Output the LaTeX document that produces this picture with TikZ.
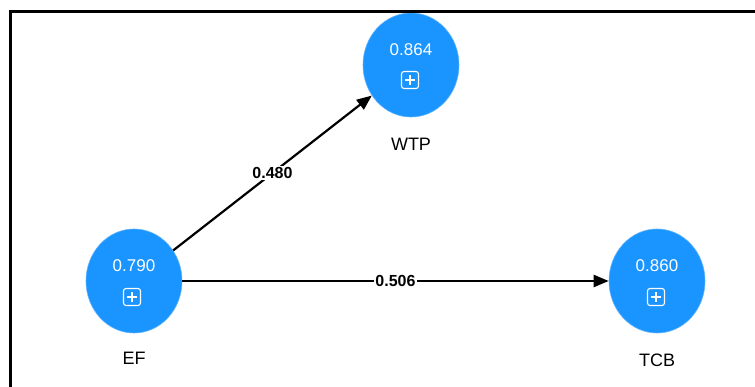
\documentclass[tikz,border=0pt]{standalone}
\usepackage{fontspec}
\setmainfont{Liberation Sans}
\usetikzlibrary{shapes.geometric,arrows.meta}
\definecolor{nodeblue}{HTML}{1A94FF}
\tikzset{
  latent/.style={ellipse, fill=nodeblue, draw=nodeblue!70!white, line width=0.6pt,
    minimum width=96pt, minimum height=104pt, inner sep=0pt},
  valtext/.style={text=white, font=\fontsize{17}{19}\selectfont, inner sep=0pt},
  plusbox/.style={draw=white, line width=1.1pt, rounded corners=2.5pt,
    minimum width=17pt, minimum height=17pt, inner sep=0pt, outer sep=0pt,
    path picture={\draw[white,line width=1.1pt]
      ([yshift=-3.8pt]path picture bounding box.north) -- ([yshift=3.8pt]path picture bounding box.south)
      ([xshift=3.8pt]path picture bounding box.west) -- ([xshift=-3.8pt]path picture bounding box.east);}},
  namelabel/.style={font=\fontsize{18}{20}\selectfont, inner sep=0pt},
  pathline/.style={line width=2.2pt, -{Triangle[length=15pt,width=12pt]}},
  coef/.style={fill=white, font=\bfseries\fontsize{16}{18}\selectfont, inner sep=1pt},
}
\begin{document}
\begin{tikzpicture}[x=1pt,y=-1pt]
\useasboundingbox (0,0) rectangle (755,387);
\fill[white] (0,0) rectangle (755,387);
% latent variables
\node[latent] (ef) at (134,281) {};
\node[latent] (wtp) at (411,65) {};
\node[latent] (tcb) at (657,281) {};
% values and boxes
\node[valtext] (efv) at (134,266) {0.790};
\node[plusbox] (efb) at (132,297) {};
\node[valtext] (wtpv) at (411,50) {0.864};
\node[plusbox] (wtpb) at (410,80) {};
\node[valtext] (tcbv) at (657,266) {0.860};
\node[plusbox] (tcbb) at (656,297) {};
% names
\node[namelabel] (efn) at (134,358) {EF};
\node[namelabel] (wtpn) at (411,144) {WTP};
\node[namelabel] (tcbn) at (657,360) {TCB};
% paths
\draw[pathline] (ef) -- node[coef] (c1) {0.480} (wtp);
\draw[pathline] (ef) -- node[coef] (c2) {0.506} (tcb);
% frame
\coordinate (fbl) at (10.5,395);
\coordinate (ftl) at (10.5,11.5);
\coordinate (ftr) at (765,11.5);
\draw[line width=2.6pt] (fbl) -- (ftl) -- (ftr);
\end{tikzpicture}
\end{document}
